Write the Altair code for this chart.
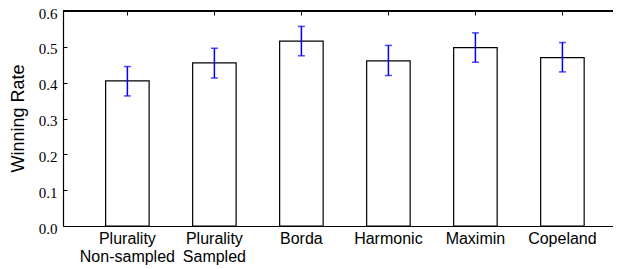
import altair as alt
import pandas as pd

categories = ["Plurality|Non-sampled", "Plurality|Sampled", "Borda", "Harmonic", "Maximin", "Copeland"]
rates = [0.405, 0.455, 0.516, 0.461, 0.498, 0.470]
err_low = [0.363, 0.413, 0.475, 0.420, 0.457, 0.430]
err_high = [0.445, 0.496, 0.557, 0.504, 0.539, 0.512]
y_ticks = [0.0, 0.1, 0.2, 0.3, 0.4, 0.5, 0.6]

df = pd.DataFrame({"method": categories, "rate": rates, "lo": err_low, "hi": err_high})

xscale = alt.Scale(paddingInner=0.5, paddingOuter=0.49, range=[0, 563.8])
yscale = alt.Scale(domain=[0, 0.6], nice=False, zero=True)

x_axis = alt.Axis(
    title=None, labelAngle=0, labelExpr="split(datum.label, '|')",
    labelPadding=4, labelLineHeight=18, labelBaseline="top", ticks=False,
    grid=True, gridDash=[4, 2000],
)
y_axis = alt.Axis(
    values=y_ticks, format=".1f",
    ticks=False, labelPadding=6, labelOffset=2,
    grid=True, gridDash=[4, 2000],
    title="Winning Rate", titleX=-45, titleY=107,
    titleAngle=270, titleAlign="center", titleBaseline="middle",
)

def xenc():
    return alt.X("method:N", sort=categories, scale=xscale, axis=x_axis)

def yenc(field):
    return alt.Y(field, scale=yscale, axis=y_axis)

base = alt.Chart(df)

bars = base.mark_bar(fill="white", stroke="black", strokeWidth=1.2).encode(x=xenc(), y=yenc("rate:Q"))
err = base.mark_rule(color="#0000ff", strokeWidth=1.5).encode(x=xenc(), y=yenc("lo:Q"), y2="hi:Q")
cap_lo = base.mark_tick(color="#0000ff", size=7, thickness=1.5).encode(x=xenc(), y=yenc("lo:Q"))
cap_hi = base.mark_tick(color="#0000ff", size=7, thickness=1.5).encode(x=xenc(), y=yenc("hi:Q"))
top = alt.Chart(df).mark_rule(color="black", strokeWidth=1.2).encode(
    y=alt.datum(0.6, scale=yscale, axis=y_axis)
)

chart = alt.layer(bars, err, cap_lo, cap_hi, top).properties(
    width=550, height=215,
    autosize=alt.AutoSizeParams(type="none"),
    padding={"left": 55, "top": 3, "right": 0, "bottom": 41},
).configure_view(
    stroke=None
).configure_axis(
    domainColor="black", domainWidth=1.2,
    gridColor="black", gridWidth=1, gridOpacity=1,
    labelColor="black", titleColor="black",
).configure_axisX(
    labelFont="Liberation Sans", labelFontSize=16,
).configure_axisY(
    labelFont="Liberation Serif", labelFontSize=15,
    titleFont="Liberation Sans", titleFontSize=18, titleFontWeight="normal",
)

chart.save("out.html", embed_options={"renderer": "svg", "actions": False})
